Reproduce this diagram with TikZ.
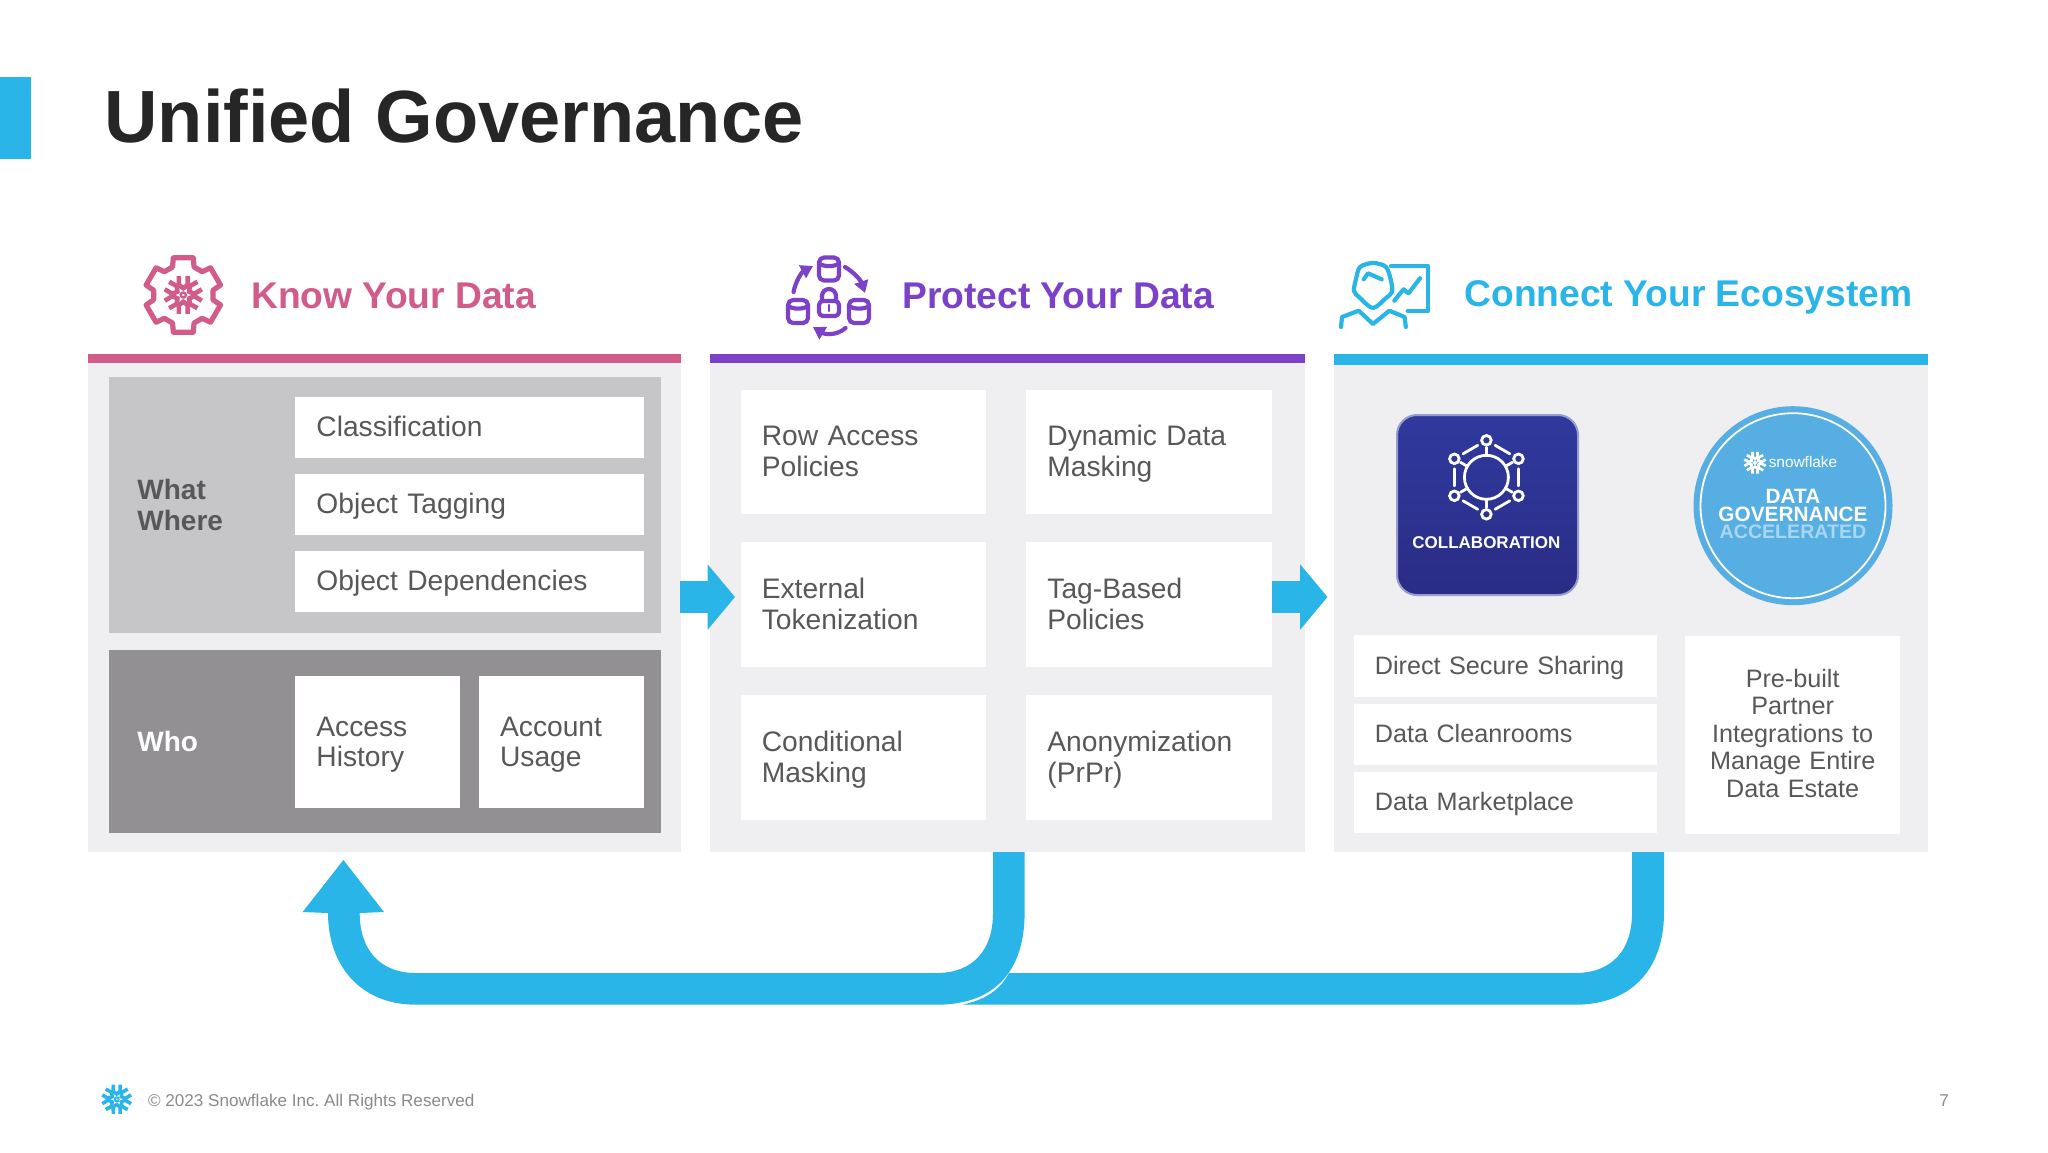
\documentclass[tikz,border=0pt]{standalone}
\usepackage{fontspec}
\setmainfont{Liberation Sans}
\usepackage{tikz}
\usetikzlibrary{arrows.meta,calc}
\definecolor{skyc}{HTML}{29B5E8}
\definecolor{pinkc}{HTML}{D15C8A}
\definecolor{violetc}{HTML}{7B41C9}
\definecolor{panelc}{HTML}{EFEEF1}
\definecolor{lightg}{HTML}{C6C5C8}
\definecolor{darkg}{HTML}{929093}
\definecolor{txtg}{HTML}{58585A}
\definecolor{footg}{HTML}{8A8A8D}
\definecolor{collabtop}{HTML}{2F3A9E}
\definecolor{collabbot}{HTML}{2A2C85}
\definecolor{badgec}{HTML}{56AEE2}
\definecolor{badgetxt}{HTML}{A9D6F2}
\frenchspacing
\tikzset{
  panel/.style 2 args={anchor=north west,fill=panelc,inner sep=0pt,minimum width=#1*0.5pt,minimum height=#2*0.5pt},
  wbox/.style 2 args={anchor=north west,fill=white,text=txtg,inner xsep=0pt,inner ysep=0pt,align=left,
    text width={(#1-42)*0.5pt},minimum width=#1*0.5pt,minimum height=#2*0.5pt,font=\fontsize{14.1}{15.35}\selectfont,
    execute at begin node={\rule{0pt}{12pt}},execute at end node={\rule[-3pt]{0pt}{3pt}}},
  sbox/.style={font=\fontsize{12.6}{13.75}\selectfont,
    execute at begin node={\rule{0pt}{11pt}},execute at end node={\rule[-4pt]{0pt}{4pt}}},
  heading/.style={anchor=base west,inner sep=0pt,font=\bfseries\fontsize{18.6}{20}\selectfont},
  sidelabel/.style={anchor=west,inner sep=0pt,align=left,font=\bfseries\fontsize{14}{15.9}\selectfont},
  icon/.style={line width=2.1pt,line cap=round,line join=round},
  flowarrow/.style={skyc,line width=15.8pt,-{Triangle[length=13.7pt,width=32pt]}},
  pics/dbcan/.style={code={
    \draw[rounded corners=2.5pt] (-10,0) rectangle (10,23);
    \draw (-10,6) .. controls (-5,9.5) and (5,9.5) .. (10,6);
  }},
  pics/hexnet/.style={code={
    \draw (0,0) circle (22);
    \foreach \a in {30,90,...,330}{
      \draw (\a:37) circle (4.8);
      \draw (\a:22) -- (\a:30);
      \draw ($(\a:37)!.27!(\a+60:37)$) -- ($(\a:37)!.73!(\a+60:37)$);
    }
  }},
  pics/flake/.style 2 args={code={
    \foreach \a in {30,90,...,330}{
      \draw[#2,line width=#1*0.115pt,line cap=butt,line join=miter]
        (\a-13:.97*#1) -- (\a-24:.55*#1) -- (\a:.34*#1) -- (\a+24:.55*#1) -- (\a+13:.97*#1);
    }
    \draw[#2,line width=#1*0.06pt] (0,0) circle (.13*#1);
  }}
}
\begin{document}
\begin{tikzpicture}[x=0.5pt,y=-0.5pt]
  \useasboundingbox (0,0) rectangle (2048,1152);
  \fill[skyc] (0,77) rectangle (31,159);
  \node[anchor=base west,inner sep=0pt,text=black!85,font=\bfseries\fontsize{37}{40}\selectfont] (title) at (104,142.7) {Unified Governance};

  % first column
  \node[panel={593}{489}] (knowp) at (88,363) {};
  \fill[pinkc] (88,354) rectangle (681,363);
  \node[heading,text=pinkc] (knowh) at (251,308) {Know Your Data};
  \begin{scope}[icon,pinkc,line width=2.6pt,shift={(183.3,295)}]
    \draw (-171:30) \foreach \a in {-150,-90,-30,30,90,150}{ -- (\a-21:30) -- (\a-15:38.5) -- (\a+15:38.5) -- (\a+21:30)} -- cycle;
    \pic at (0,0) {flake={20}{pinkc}};
  \end{scope}
  \node[panel={552}{256},fill=lightg] (whatp) at (108.6,377) {};
  \node[panel={552}{183},fill=darkg] (whop) at (108.6,650) {};
  \node[sidelabel,text=txtg] (what) at (137,505) {What\\Where};
  \node[sidelabel,text=white] (who) at (137,741) {Who};
  \node[wbox={349}{61}] (classif) at (295,396.7) {Classification};
  \node[wbox={349}{61}] (tagging) at (295,474) {Object Tagging};
  \node[wbox={349}{61}] (depend) at (295,551) {Object Dependencies};
  \node[wbox={165}{132}] (access) at (295,676) {Access\\History};
  \node[wbox={165}{132}] (account) at (478.7,676) {Account\\Usage};

  % second column
  \node[panel={595}{489}] (protp) at (710,363) {};
  \fill[violetc] (710,354) rectangle (1305,363);
  \node[heading,text=violetc] (proth) at (902,308) {Protect Your Data};
  \begin{scope}[icon,violetc]
    \pic at (829,257.5) {dbcan};
    \pic at (798,300) {dbcan};
    \pic at (859,300) {dbcan};
    \draw[rounded corners=2pt] (819,301) rectangle (839,316);
    \draw (822,301) -- (822,296) arc (180:360:7) -- (836,301);
    \draw[line width=1.2pt] (829,305) -- (829,311);
    \draw[-{Triangle[length=6pt,width=7pt]}] (793.5,292) .. controls (796,280) and (802,272) .. (813,266);
    \draw[-{Triangle[length=6pt,width=7pt]}] (845,267) .. controls (855,273) and (861,281) .. (865,293);
    \draw[-{Triangle[length=6pt,width=7pt]}] (845.5,328) .. controls (838,335) and (826,335) .. (813,327);
  \end{scope}
  \node[wbox={245.6}{124}] (rowacc) at (740.4,389.3) {Row Access\\Policies};
  \node[wbox={245.6}{124}] (dyn) at (1026,389.3) {Dynamic Data\\Masking};
  \node[wbox={245.6}{124.7}] (token) at (740.4,542) {External\\Tokenization};
  \node[wbox={245.6}{124.7}] (tagbased) at (1026,542) {Tag-Based\\Policies};
  \node[wbox={245.6}{125}] (condit) at (740.4,695) {Conditional\\Masking};
  \node[wbox={245.6}{125}] (anon) at (1026,695) {Anonymization\\(PrPr)};

  % third column
  \node[panel={594}{489}] (ecop) at (1334,363) {};
  \fill[skyc] (1334,354) rectangle (1928,365);
  \node[heading,text=skyc] (ecoh) at (1464,306) {Connect Your Ecosystem};
  \begin{scope}[icon,skyc]
    \draw plot[smooth cycle] coordinates {(1373,263) (1386,267) (1391,281) (1392,292) (1386,298) (1373,308) (1360,298) (1354,291) (1356,279) (1360,267)};
    \draw (1341,327) -- (1342,317) -- (1358.7,310.7) -- (1373,324) -- (1389.3,310.7) -- (1404.6,317) -- (1405.8,327);
    \draw (1391,266) -- (1428,266) -- (1428,311) -- (1407.7,311);
    \draw (1394.3,300.7) -- (1403.5,289.3) -- (1408.5,293.3) -- (1420,278.3);
    \draw (1363.7,279.3) -- (1368,273.3) -- (1381.7,279.3);
  \end{scope}
  \node[anchor=north west,draw=collabtop!50!white,line width=1pt,rounded corners=10pt,top color=collabtop,bottom color=collabbot,
    minimum width=90.5pt,minimum height=90pt,inner sep=0pt] (collab) at (1396,414) {};
  \begin{scope}[shift={(1486.4,477.3)},white,line width=1.4pt,line cap=round]
    \pic at (0,0) {hexnet};
  \end{scope}
  \node[text=white,inner sep=0pt,font=\bfseries\fontsize{8.5}{10}\selectfont] (collabt) at (1486.4,543) {COLLABORATION};
  \node[circle,fill=badgec,draw=none,minimum size=99.5pt,inner sep=0pt] (badge) at (1793,505.7) {};
  \draw[white,line width=0.9pt] (badge.center) circle (92.5);
  \pic at (1755,462.7) {flake={11.5}{white}};
  \node[text=white,inner sep=0pt,font=\fontsize{7.7}{9}\selectfont] (brand) at (1803,462) {snowflake};
  \node[text=white,inner sep=0pt,font=\bfseries\fontsize{10.4}{12}\selectfont] (bdata) at (1793,496) {DATA};
  \node[text=white,inner sep=0pt,font=\bfseries\fontsize{10.4}{12}\selectfont] (bgov) at (1793,514) {GOVERNANCE};
  \node[text=badgetxt,inner sep=0pt,font=\bfseries\fontsize{9.8}{12}\selectfont] (bacc) at (1793,532) {ACCELERATED};
  \node[wbox={303.2}{61.7},sbox] (direct) at (1353.5,635) {Direct Secure Sharing};
  \node[wbox={303.2}{61.7},sbox] (clean) at (1353.5,703.3) {Data Cleanrooms};
  \node[wbox={303.2}{60.7},sbox] (market) at (1353.5,772) {Data Marketplace};
  \node[wbox={215.5}{197.6},sbox,align=center] (partner) at (1684.5,635.7) {Pre-built\\Partner\\Integrations to\\Manage Entire\\Data Estate\rule[-4.5pt]{0pt}{0pt}};

  % arrows between the columns
  \coordinate (ao) at (680.4,597);
  \coordinate (at) at (735,597);
  \coordinate (bo) at (1272.4,597);
  \coordinate (bt) at (1327.5,597);
  \draw[flowarrow] (ao) -- (at);
  \draw[flowarrow] (bo) -- (bt);

  % return arrows
  \fill[skyc] (1009,973) -- (1575,973) .. controls (1612,973) and (1632,950) .. (1632,913) -- (1632,852)
    -- (1664,852) -- (1664,913) .. controls (1664,965) and (1635,1004.7) .. (1575,1004.7) -- (962,1004.7)
    .. controls (985,1000) and (1000,990) .. (1009,973) -- cycle;
  \fill[skyc] (993,852) -- (1024.6,852) -- (1024.6,913) .. controls (1024.6,965) and (1000,1004.7) .. (936.7,1004.7)
    -- (416,1004.7) .. controls (360,1004.7) and (328,965) .. (328,913) -- (302.6,912) -- (343.4,860) -- (384,912)
    -- (359.7,913) .. controls (359.7,950) and (380,973) .. (416,973) -- (936.7,973) .. controls (973,973) and (993,950) .. (993,913) -- cycle;

  % footer
  \pic at (116.7,1099.3) {flake={15.5}{skyc}};
  \node[anchor=base west,inner sep=0pt,text=footg,font=\fontsize{8.55}{10}\selectfont] (copy) at (147.7,1106.7) {© 2023 Snowflake Inc. All Rights Reserved};
  \node[inner sep=0pt,text=footg,font=\fontsize{8.55}{10}\selectfont] (pageno) at (1944,1100.5) {7};
\end{tikzpicture}
\end{document}
